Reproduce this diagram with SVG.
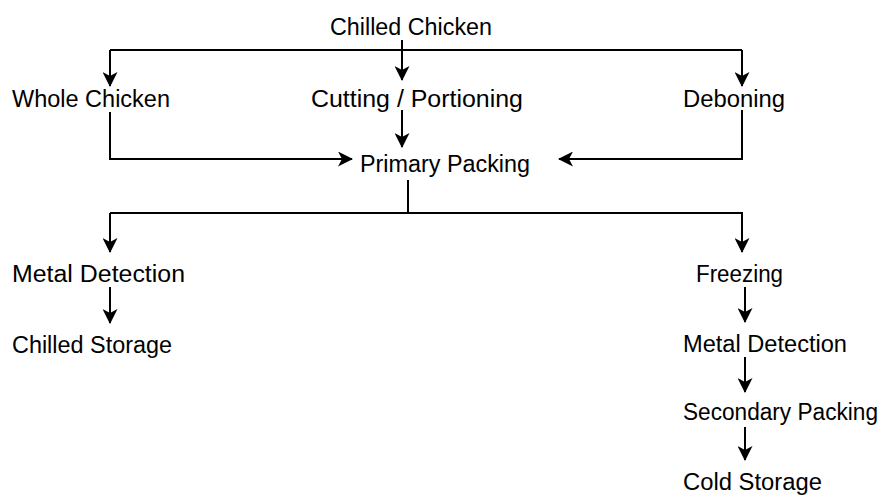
<svg xmlns="http://www.w3.org/2000/svg" width="885" height="501" viewBox="0 0 885 501">
<style>
text{font-family:"Liberation Sans",Arial,sans-serif;font-size:23px;fill:#000}
.c{fill:none;stroke:#000;stroke-width:2}
.a{marker-end:url(#ah)}
</style>
<defs>
<marker id="ah" markerUnits="userSpaceOnUse" markerWidth="15" markerHeight="15" viewBox="0 0 15 15" refX="14" refY="7.5" orient="auto">
<path d="M0,0 L15,7.5 L0,15 L4,7.5 z" fill="#000"/>
</marker>
</defs>
<rect width="885" height="501" fill="#fff"/>
<g id="n-chilled-chicken"><text x="330" y="35" textLength="162" lengthAdjust="spacingAndGlyphs">Chilled Chicken</text></g>
<g id="n-whole-chicken"><text x="12" y="107" textLength="158" lengthAdjust="spacingAndGlyphs">Whole Chicken</text></g>
<g id="n-cutting"><text x="311" y="107" textLength="212" lengthAdjust="spacingAndGlyphs">Cutting / Portioning</text></g>
<g id="n-deboning"><text x="683" y="107" textLength="102" lengthAdjust="spacingAndGlyphs">Deboning</text></g>
<g id="n-primary-packing"><text x="360" y="172" textLength="170" lengthAdjust="spacingAndGlyphs">Primary Packing</text></g>
<g id="n-metal-detection-1"><text x="12" y="282" textLength="173" lengthAdjust="spacingAndGlyphs">Metal Detection</text></g>
<g id="n-chilled-storage"><text x="12" y="353" textLength="160" lengthAdjust="spacingAndGlyphs">Chilled Storage</text></g>
<g id="n-freezing"><text x="696" y="282" textLength="87" lengthAdjust="spacingAndGlyphs">Freezing</text></g>
<g id="n-metal-detection-2"><text x="683" y="352" textLength="164" lengthAdjust="spacingAndGlyphs">Metal Detection</text></g>
<g id="n-secondary-packing"><text x="683" y="420" textLength="195" lengthAdjust="spacingAndGlyphs">Secondary Packing</text></g>
<g id="n-cold-storage"><text x="683" y="490" textLength="139" lengthAdjust="spacingAndGlyphs">Cold Storage</text></g>
<g id="connectors">
<path class="c" d="M110,50 H742"/>
<path class="c a" d="M110,50 V86"/>
<path class="c a" d="M402,40 V80"/>
<path class="c a" d="M742,50 V86"/>
<path class="c a" d="M110,112 V159 H352"/>
<path class="c a" d="M402,110 V147"/>
<path class="c a" d="M742,110 V159 H559"/>
<path class="c" d="M408,180 V213"/>
<path class="c" d="M110,213 H743"/>
<path class="c a" d="M110,213 V252"/>
<path class="c a" d="M742,213 V252"/>
<path class="c a" d="M110,287 V323"/>
<path class="c a" d="M745,287 V322"/>
<path class="c a" d="M745,357 V392"/>
<path class="c a" d="M745,427 V460"/>
</g>
</svg>
